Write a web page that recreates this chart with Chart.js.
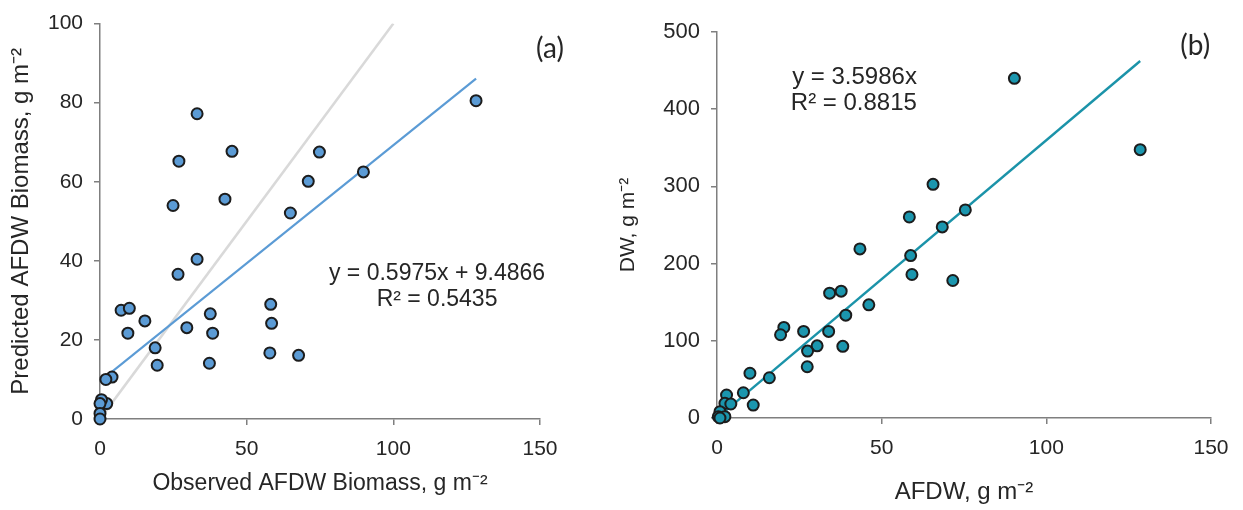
<!DOCTYPE html>
<html>
<head>
<meta charset="utf-8">
<script src="https://cdn.jsdelivr.net/npm/chart.js@4.4.1/dist/chart.umd.min.js"></script>
<style>
  html, body { margin: 0; padding: 0; background: #fff; }
  #wrap { position: relative; width: 1243px; height: 510px; overflow: hidden; }
  #chartA { position: absolute; left: 0; top: 0; }
  #chartB { position: absolute; left: 600px; top: 0; }
</style>
</head>
<body>
<div id="wrap">
  <canvas id="chartA" width="590" height="510"></canvas>
  <canvas id="chartB" width="643" height="510"></canvas>
</div>
<script>
// panel (a): observed vs predicted AFDW biomass
const observedA = [128.2, 89.8, 74.8, 71.0, 64.9, 67.7, 58.2, 58.5, 57.9, 33.1, 45.0, 26.9, 24.9, 42.6,
  33.1, 26.6, 37.6, 38.4, 37.3, 29.6, 19.5, 18.8, 15.3, 9.5, 7.2, 10.0, 4.1, 2.0, 2.3, 0.5, 0.0, 0.0, 0.0];
const predictedA = [80.5, 62.5, 67.5, 60.1, 52.1, 16.1, 29.0, 24.2, 16.7, 77.2, 67.7, 65.2, 54.0, 55.6,
  40.4, 36.6, 26.6, 21.7, 14.1, 23.1, 13.6, 18.0, 24.8, 21.7, 27.5, 28.0, 10.6, 10.0, 3.9, 4.9, 3.9, 1.4, 0.0];
const fitA = { slope: 0.5975, intercept: 9.4866, r2: 0.5435 };
const oneToOne = [0, 100];

// panel (b): AFDW vs DW
const afdwB = [90.3, 128.5, 65.6, 58.4, 75.4, 68.4, 43.4, 58.8, 59.2, 71.6, 34.2, 37.7, 46.1, 39.1,
  33.9, 30.4, 38.2, 26.3, 20.3, 19.3, 27.5, 27.4, 10.0, 15.9, 8.0, 11.0, 2.9, 2.4, 4.2, 0.9, 0.4, 2.4, 0.9];
const dwB = [440, 347.6, 302.7, 260.4, 269.5, 247.5, 219, 210.4, 185.9, 178.1, 161.7, 164.3, 146.6, 133.2,
  112.2, 93.5, 92.8, 112.2, 117.3, 107.8, 86.7, 66.4, 58, 52.1, 32.7, 16.8, 29.8, 19.0, 18.1, 8.2, 1.7, 1.7, 0];
const fitB = { slope: 3.5986, r2: 0.8815 };

const xTicks = [0, 50, 100, 150];
const yTicksA = [0, 20, 40, 60, 80, 100];
const yTicksB = [0, 100, 200, 300, 400, 500];

const axisColor = '#7f7f7f';
const textColor = '#262626';
const fontFamily = '"Liberation Sans", Arial, sans-serif';

function toPoints(xs, ys) {
  return xs.map((x, i) => ({ x, y: ys[i] }));
}

function axis(ticks, title, isX, tickSize, titleSize, titlePad) {
  return {
    type: 'linear',
    min: ticks[0],
    max: ticks[ticks.length - 1],
    afterBuildTicks: (scale) => {
      scale.ticks = ticks.map((v) => ({ value: v }));
    },
    grid: {
      display: true,
      drawOnChartArea: false,
      drawTicks: true,
      tickLength: 6,
      color: axisColor,
      lineWidth: 1.5,
    },
    border: { display: true, color: axisColor, width: 1.5 },
    ticks: {
      color: textColor,
      font: { family: fontFamily, size: tickSize },
      padding: isX ? 12 : 11,
      maxRotation: 0,
    },
    title: {
      display: true,
      text: title,
      color: textColor,
      font: { family: fontFamily, size: titleSize },
      padding: { top: titlePad, bottom: titlePad },
    },
  };
}

const labelsPlugin = {
  id: 'labels',
  afterDraw(chart, args, opts) {
    const { ctx } = chart;
    const { x, y } = chart.scales;
    ctx.save();
    ctx.fillStyle = textColor;
    ctx.textBaseline = 'middle';
    opts.items.forEach((it) => {
      ctx.font = it.font;
      ctx.textAlign = it.align;
      ctx.fillText(it.text, x.getPixelForValue(it.x), y.getPixelForValue(it.y));
    });
    ctx.restore();
  },
};

const maxA = Math.max(...observedA);
const maxB = Math.max(...afdwB);

new Chart(document.getElementById('chartA'), {
  type: 'scatter',
  data: {
    datasets: [
      {
        data: toPoints(observedA, predictedA),
        backgroundColor: '#5b9bd5',
        borderColor: '#1c1c1c',
        borderWidth: 2,
        pointRadius: 5.5,
        clip: false,
        order: 0,
      },
      {
        type: 'line',
        data: [{ x: 0, y: fitA.intercept }, { x: maxA, y: fitA.slope * maxA + fitA.intercept }],
        borderColor: '#5b9bd5',
        borderWidth: 2.2,
        pointRadius: 0,
        order: 1,
      },
      {
        type: 'line',
        data: oneToOne.map((v) => ({ x: v, y: v })),
        borderColor: '#d9d9d9',
        borderWidth: 2.6,
        pointRadius: 0,
        order: 2,
      },
    ],
  },
  options: {
    responsive: false,
    animation: false,
    devicePixelRatio: 1,
    layout: { padding: { left: 3, right: 50, top: 20, bottom: 9 } },
    plugins: {
      legend: { display: false },
      tooltip: { enabled: false },
      labels: {
        items: [
          { text: 'y = 0.5975x + 9.4866', x: 114.9, y: 36.8, align: 'center', font: '23px ' + fontFamily },
          { text: 'R² = 0.5435', x: 114.9, y: 30.3, align: 'center', font: '23px ' + fontFamily },
          { text: '(a)', x: 153.4, y: 93.7, align: 'center', font: '28px Lato, "Open Sans", sans-serif' },
        ],
      },
    },
    scales: {
      x: { ...axis(xTicks, 'Observed AFDW Biomass, g m⁻²', true, 21, 23, 4),
        afterFit: (s) => { s.height = 82; } },
      y: { ...axis(yTicksA, 'Predicted AFDW Biomass, g m⁻²', false, 21, 24, 4),
        afterFit: (s) => { s.width = 97; } },
    },
  },
  plugins: [labelsPlugin],
});

new Chart(document.getElementById('chartB'), {
  type: 'scatter',
  data: {
    datasets: [
      {
        data: toPoints(afdwB, dwB),
        backgroundColor: '#1b96ae',
        borderColor: '#1c1c1c',
        borderWidth: 2,
        pointRadius: 5.5,
        clip: false,
        order: 0,
      },
      {
        type: 'line',
        data: [{ x: 0, y: 0 }, { x: maxB, y: fitB.slope * maxB }],
        borderColor: '#1b93a9',
        borderWidth: 2.4,
        pointRadius: 0,
        order: 1,
      },
    ],
  },
  options: {
    responsive: false,
    animation: false,
    devicePixelRatio: 1,
    layout: { padding: { left: 12, right: 32, top: 32, bottom: 1 } },
    plugins: {
      legend: { display: false },
      tooltip: { enabled: false },
      labels: {
        items: [
          { text: 'y = 3.5986x', x: 60.7, y: 441, align: 'right', font: '24px ' + fontFamily },
          { text: 'R² = 0.8815', x: 60.7, y: 407, align: 'right', font: '24px ' + fontFamily },
          { text: '(b)', x: 145.2, y: 482.5, align: 'center', font: '28px Lato, "Open Sans", sans-serif' },
        ],
      },
    },
    scales: {
      x: { ...axis(xTicks, 'AFDW, g m⁻²', true, 21, 24, 2),
        afterFit: (s) => { s.height = 91; } },
      y: { ...axis(yTicksB, 'DW, g m⁻²', false, 22, 21, 4),
        afterFit: (s) => { s.width = 105; } },
    },
  },
  plugins: [labelsPlugin],
});
</script>
</body>
</html>
